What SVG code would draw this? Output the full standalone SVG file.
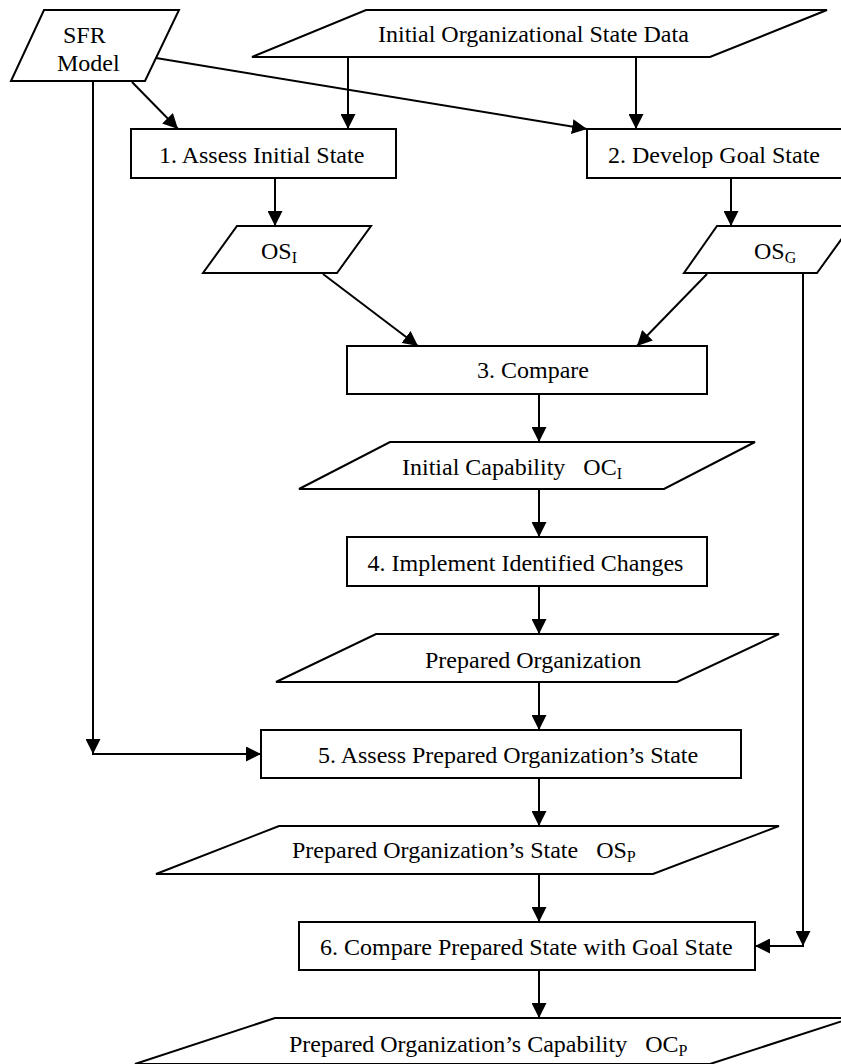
<svg xmlns="http://www.w3.org/2000/svg" width="841" height="1064" viewBox="0 0 841 1064">
<style>
.s{fill:#fff;stroke:#000;stroke-width:2}
.t{font-family:"Liberation Serif","Times New Roman",serif;font-size:24px;fill:#000}
.sub{font-size:16px}
.c{fill:none;stroke:#000;stroke-width:2}
</style>
<defs>
<marker id="ah" markerUnits="userSpaceOnUse" markerWidth="15" markerHeight="15" refX="15" refY="7.5" orient="auto">
<path d="M0,0 L15,7.5 L0,15 z" fill="#000"/>
</marker>
</defs>
<rect width="841" height="1064" fill="#fff"/>
<g id="connectors">
<line class="c" x1="132" y1="82" x2="178" y2="129" marker-end="url(#ah)"/>
<line class="c" x1="156" y1="58" x2="587" y2="129" marker-end="url(#ah)"/>
<line class="c" x1="348" y1="57" x2="348" y2="129" marker-end="url(#ah)"/>
<line class="c" x1="636" y1="57" x2="636" y2="129" marker-end="url(#ah)"/>
<line class="c" x1="93" y1="81" x2="93" y2="754" marker-end="url(#ah)"/>
<line class="c" x1="92" y1="754" x2="261" y2="754" marker-end="url(#ah)"/>
<line class="c" x1="275" y1="178" x2="275" y2="226" marker-end="url(#ah)"/>
<line class="c" x1="731" y1="178" x2="731" y2="226" marker-end="url(#ah)"/>
<line class="c" x1="323" y1="274" x2="418" y2="346" marker-end="url(#ah)"/>
<line class="c" x1="707" y1="274" x2="637" y2="346" marker-end="url(#ah)"/>
<line class="c" x1="803" y1="273" x2="803" y2="946" marker-end="url(#ah)"/>
<line class="c" x1="804" y1="946" x2="755" y2="946" marker-end="url(#ah)"/>
<line class="c" x1="539" y1="394" x2="539" y2="442" marker-end="url(#ah)"/>
<line class="c" x1="539" y1="489" x2="539" y2="537" marker-end="url(#ah)"/>
<line class="c" x1="539" y1="586" x2="539" y2="634" marker-end="url(#ah)"/>
<line class="c" x1="539" y1="682" x2="539" y2="730" marker-end="url(#ah)"/>
<line class="c" x1="539" y1="778" x2="539" y2="826" marker-end="url(#ah)"/>
<line class="c" x1="539" y1="874" x2="539" y2="922" marker-end="url(#ah)"/>
<line class="c" x1="539" y1="970" x2="539" y2="1018" marker-end="url(#ah)"/>
</g>
<g id="sfr">
<polygon class="s" points="44,10 179,10 145,81 11,81"/>
<text class="t" x="63" y="43">SFR</text>
<text class="t" x="57" y="71">Model</text>
</g>
<g id="initial-data">
<polygon class="s" points="366,10 827,10 710,57 252,57"/>
<text class="t" x="378" y="42">Initial Organizational State Data</text>
</g>
<g id="step1">
<rect class="s" x="131" y="129" width="265" height="49"/>
<text class="t" x="159" y="163">1. Assess Initial State</text>
</g>
<g id="step2">
<rect class="s" x="587" y="129" width="265" height="49"/>
<text class="t" x="608" y="163">2. Develop Goal State</text>
</g>
<g id="os-i">
<polygon class="s" points="237,226 371,226 337,273 203,273"/>
<text class="t" x="261" y="259">OS<tspan class="sub" dy="4">I</tspan></text>
</g>
<g id="os-g">
<polygon class="s" points="717,226 851,226 817,273 684,273"/>
<text class="t" x="754" y="259">OS<tspan class="sub" dy="4">G</tspan></text>
</g>
<g id="step3">
<rect class="s" x="347" y="346" width="360" height="48"/>
<text class="t" x="477" y="378">3. Compare</text>
</g>
<g id="initial-capability">
<polygon class="s" points="390,442 755,442 664,489 299,489"/>
<text class="t" x="402" y="475" xml:space="preserve">Initial Capability   OC<tspan class="sub" dy="4">I</tspan></text>
</g>
<g id="step4">
<rect class="s" x="347" y="537" width="360" height="49"/>
<text class="t" x="367.5" y="571">4. Implement Identified Changes</text>
</g>
<g id="prepared-org">
<polygon class="s" points="376,634 779,634 677,682 276,682"/>
<text class="t" x="425" y="668">Prepared Organization</text>
</g>
<g id="step5">
<rect class="s" x="261" y="730" width="480" height="48"/>
<text class="t" x="318" y="763">5. Assess Prepared Organization’s State</text>
</g>
<g id="os-p">
<polygon class="s" points="279,826 779,826 653,874 156,874"/>
<text class="t" x="292" y="858" xml:space="preserve">Prepared Organization’s State   OS<tspan class="sub" dy="4">P</tspan></text>
</g>
<g id="step6">
<rect class="s" x="299" y="922" width="456" height="48"/>
<text class="t" x="320" y="955">6. Compare Prepared State with Goal State</text>
</g>
<g id="oc-p">
<polygon class="s" points="275,1018 852,1018 710,1064 135,1064"/>
<text class="t" x="289" y="1052" xml:space="preserve">Prepared Organization’s Capability   OC<tspan class="sub" dy="4">P</tspan></text>
</g>
</svg>
